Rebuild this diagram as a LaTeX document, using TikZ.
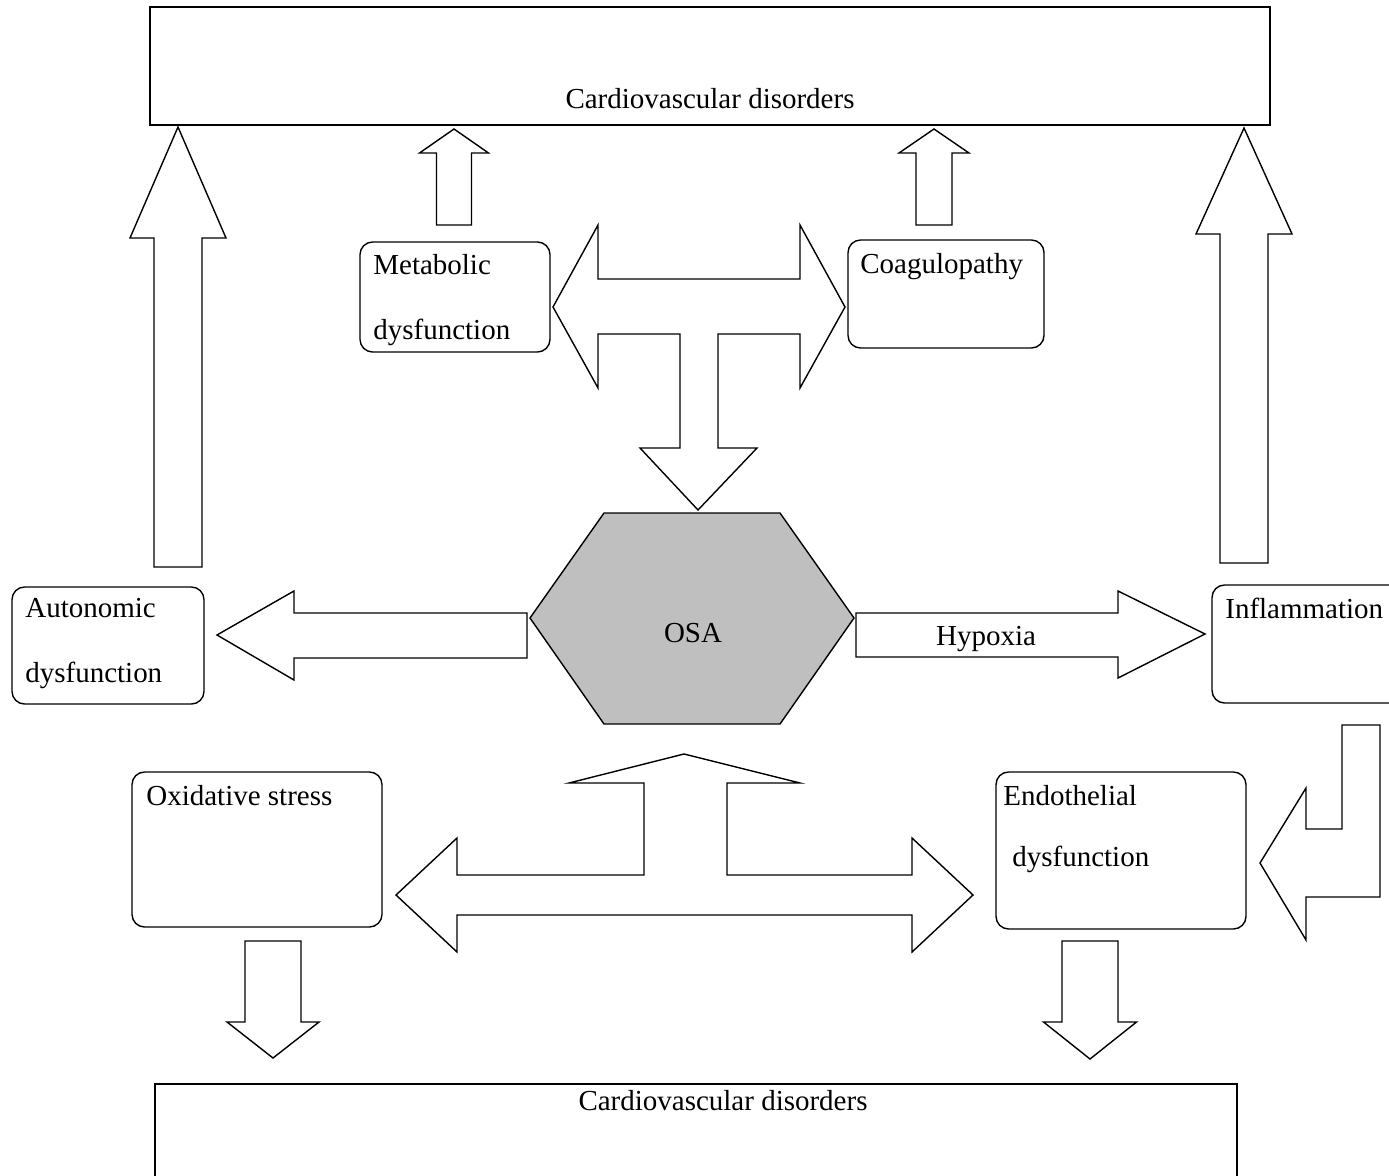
\documentclass[tikz,border=0pt]{standalone}
\usepackage{fontspec}
\setmainfont{Liberation Serif}
\usepackage{tikz}

\tikzset{
  box/.style={draw, line width=0.8pt, rounded corners=0.25cm, inner sep=0pt},
  bigbox/.style={draw, line width=0.8pt, inner sep=0pt},
  blockarrow/.style={draw, line width=0.8pt, fill=white, line join=miter},
  txt/.style={font=\fontsize{16.5}{20}\selectfont, inner sep=0pt, anchor=base west},
}

\begin{document}
\begin{tikzpicture}[x=0.02cm,y=-0.02cm]
  \useasboundingbox (0,0) rectangle (1389,1176);

  % outer boxes
  \node[bigbox, minimum width=22.4cm, minimum height=2.36cm] (cvdtop) at (710,66) {};
  \node[bigbox, minimum width=21.64cm, minimum height=2.4cm] (cvdbot) at (696,1144) {};
  \node[txt, anchor=base] (cvdtoptext) at (710,109) {Cardiovascular disorders};
  \node[txt, anchor=base] (cvdbottext) at (723,1110) {Cardiovascular disorders};

  % rounded boxes
  \node[box, minimum width=3.8cm, minimum height=2.2cm] (meta) at (455,297) {};
  \node[box, minimum width=3.92cm, minimum height=2.16cm] (coag) at (946,294) {};
  \node[box, minimum width=3.84cm, minimum height=2.34cm] (auto) at (108,645.5) {};
  \node[box, minimum width=4.16cm, minimum height=2.36cm] (infl) at (1316,644) {};
  \node[box, minimum width=5cm, minimum height=3.1cm] (oxid) at (257,849.5) {};
  \node[box, minimum width=5cm, minimum height=3.14cm] (endo) at (1121,850.5) {};

  \node[txt] (metaA) at (373,274) {Metabolic};
  \node[txt] (metaB) at (373,339) {dysfunction};
  \node[txt] (coagA) at (860,273) {Coagulopathy};
  \node[txt] (autoA) at (25,617) {Autonomic};
  \node[txt] (autoB) at (25,682) {dysfunction};
  \node[txt] (inflA) at (1225,618) {Inflammation};
  \node[txt] (oxidA) at (146,805) {Oxidative stress};
  \node[txt] (endoA) at (1003,805) {Endothelial};
  \node[txt] (endoB) at (1012,866) {dysfunction};

  % OSA hexagon
  \filldraw[line width=0.8pt, fill=black!25] (530,618) -- (604,513) -- (780,513)
    -- (854,618) -- (780,724) -- (604,724) -- cycle;
  \node[txt, anchor=base] (osa) at (693,642) {OSA};

  % vertical block arrows: centre/tip/head base/end/half head/half shaft
  \foreach \cx/\tip/\base/\bot/\hw/\sw in {178/127/238/567/48/24,
      1244/128/234/563/48/24, 454/129/153/225/34.5/17.5, 934/129/153/225/35/18,
      273/1058/1022/941/46/28, 1090/1059/1022/941/46.5/28} {
    \draw[blockarrow] (\cx,\tip) -- (\cx+\hw,\base) -- (\cx+\sw,\base) -- (\cx+\sw,\bot)
      -- (\cx-\sw,\bot) -- (\cx-\sw,\base) -- (\cx-\hw,\base) -- cycle;
  }

  % horizontal block arrows
  \draw[blockarrow] (217,635) -- (294,591) -- (294,613) -- (527,613) -- (527,658)
    -- (294,658) -- (294,680) -- cycle;
  \draw[blockarrow] (1205,634) -- (1118,591) -- (1118,613) -- (856,613) -- (856,657)
    -- (1118,657) -- (1118,678) -- cycle;
  \node[txt, anchor=base] (hypoxia) at (986,645) {Hypoxia};

  % upper T arrow
  \draw[blockarrow] (553,307) -- (598,225) -- (598,279) -- (800,279) -- (800,225)
    -- (845,307) -- (800,388) -- (800,334) -- (718,334) -- (718,448) -- (757,448)
    -- (698,510) -- (640,448) -- (680,448) -- (680,334) -- (598,334) -- (598,388) -- cycle;

  % lower T arrow
  \draw[blockarrow] (396,895) -- (457,838) -- (457,875) -- (644,875) -- (644,783)
    -- (569,783) -- (684,754) -- (800,783) -- (727,783) -- (727,875) -- (912,875)
    -- (912,838) -- (973,895) -- (912,952) -- (912,915) -- (457,915) -- (457,952) -- cycle;

  % bent arrow
  \draw[blockarrow] (1380,725) -- (1380,897) -- (1306,897) -- (1306,940) -- (1260,863)
    -- (1306,788) -- (1306,829) -- (1342,829) -- (1342,725) -- cycle;
\end{tikzpicture}
\end{document}
